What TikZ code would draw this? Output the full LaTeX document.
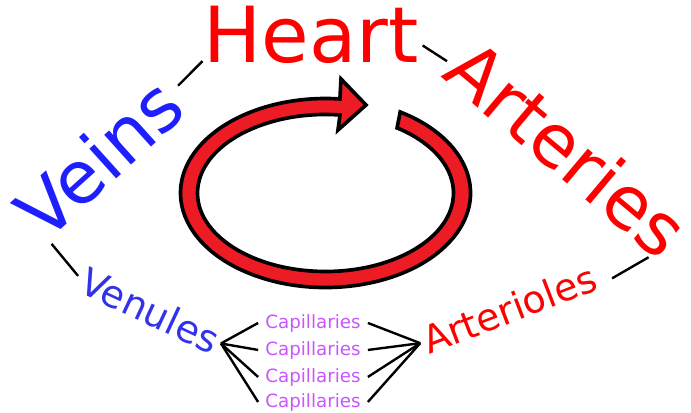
\documentclass[tikz,border=0pt]{standalone}
\usepackage{fontspec}
\setmainfont{DejaVu Sans}
\definecolor{heartred}{RGB}{255,0,0}
\definecolor{veinblue}{RGB}{30,30,255}
\definecolor{venuleblue}{RGB}{50,50,235}
\definecolor{capviolet}{RGB}{200,85,255}
\definecolor{pumpred}{RGB}{237,28,36}

\begin{document}
\begin{tikzpicture}[x=0.025cm, y=-0.025cm,
    word/.style={inner sep=0pt, outer sep=0pt},
    bigword/.style={word, font=\fontsize{52}{60}\selectfont},
    midword/.style={word, inner xsep=0.1cm, font=\fontsize{27}{32}\selectfont},
    capbox/.style={word, inner xsep=0.18cm, text=capviolet,
                   font=\fontsize{13}{15}\selectfont},
    link/.style={line width=1.7pt, black},
    pump/.style={fill=pumpred, draw=black, line width=2.6pt, line join=miter},
]
\useasboundingbox (0,0) rectangle (691,413);

% the loop arrow
\draw[pump] (400.2,112.0) arc[start angle=-59, end angle=275.7, x radius=145, y radius=94.5]
    -- (341,79) -- (366,105) -- (338,130) -- (340.0,115.0)
    arc[start angle=276.5, end angle=-56, x radius=128, y radius=78.5] -- cycle;

\node[bigword, text=heartred, font=\fontsize{55}{60}\selectfont, anchor=base] (heart) at (311,63) {Heart};
\node[bigword, text=veinblue, anchor=base west, rotate=42] (veins) at (45,243) {Veins};
\node[bigword, text=heartred, anchor=base west, rotate=-40] (arteries) at (440,77) {Arteries};
\node[midword, text=venuleblue, anchor=base west, rotate=-25] (venules) at (73.4,290.3) {Venules};
\node[midword, text=heartred, anchor=base west, rotate=21] (arterioles) at (425.3,356.4) {Arterioles};

\node[capbox, anchor=base] (cap1) at (313,328) {Capillaries};
\node[capbox, anchor=base] (cap2) at (313,355) {Capillaries};
\node[capbox, anchor=base] (cap3) at (313,382) {Capillaries};
\node[capbox, anchor=base] (cap4) at (313,407) {Capillaries};

\draw[link, shorten <=0.25cm, shorten >=0.03cm] (veins.east) -- (heart.193);
\draw[link, shorten <=0.12cm, shorten >=0.12cm] (heart.356) -- (arteries.184);
\draw[link, shorten <=0.1cm, shorten >=0.05cm] (veins.197) -- (venules.west);
\draw[link, shorten <=0.29cm, shorten >=0.08cm] (arterioles.354) -- (arteries.348);

\draw[link] (venules.east) -- (cap1.west);
\draw[link] (venules.east) -- (cap2.west);
\draw[link] (venules.east) -- (cap3.west);
\draw[link] (venules.east) -- (cap4.west);
\draw[link] (cap1.east) -- (arterioles.west);
\draw[link] (cap2.east) -- (arterioles.west);
\draw[link] (cap3.east) -- (arterioles.west);
\draw[link] (cap4.east) -- (arterioles.west);
\end{tikzpicture}
\end{document}
